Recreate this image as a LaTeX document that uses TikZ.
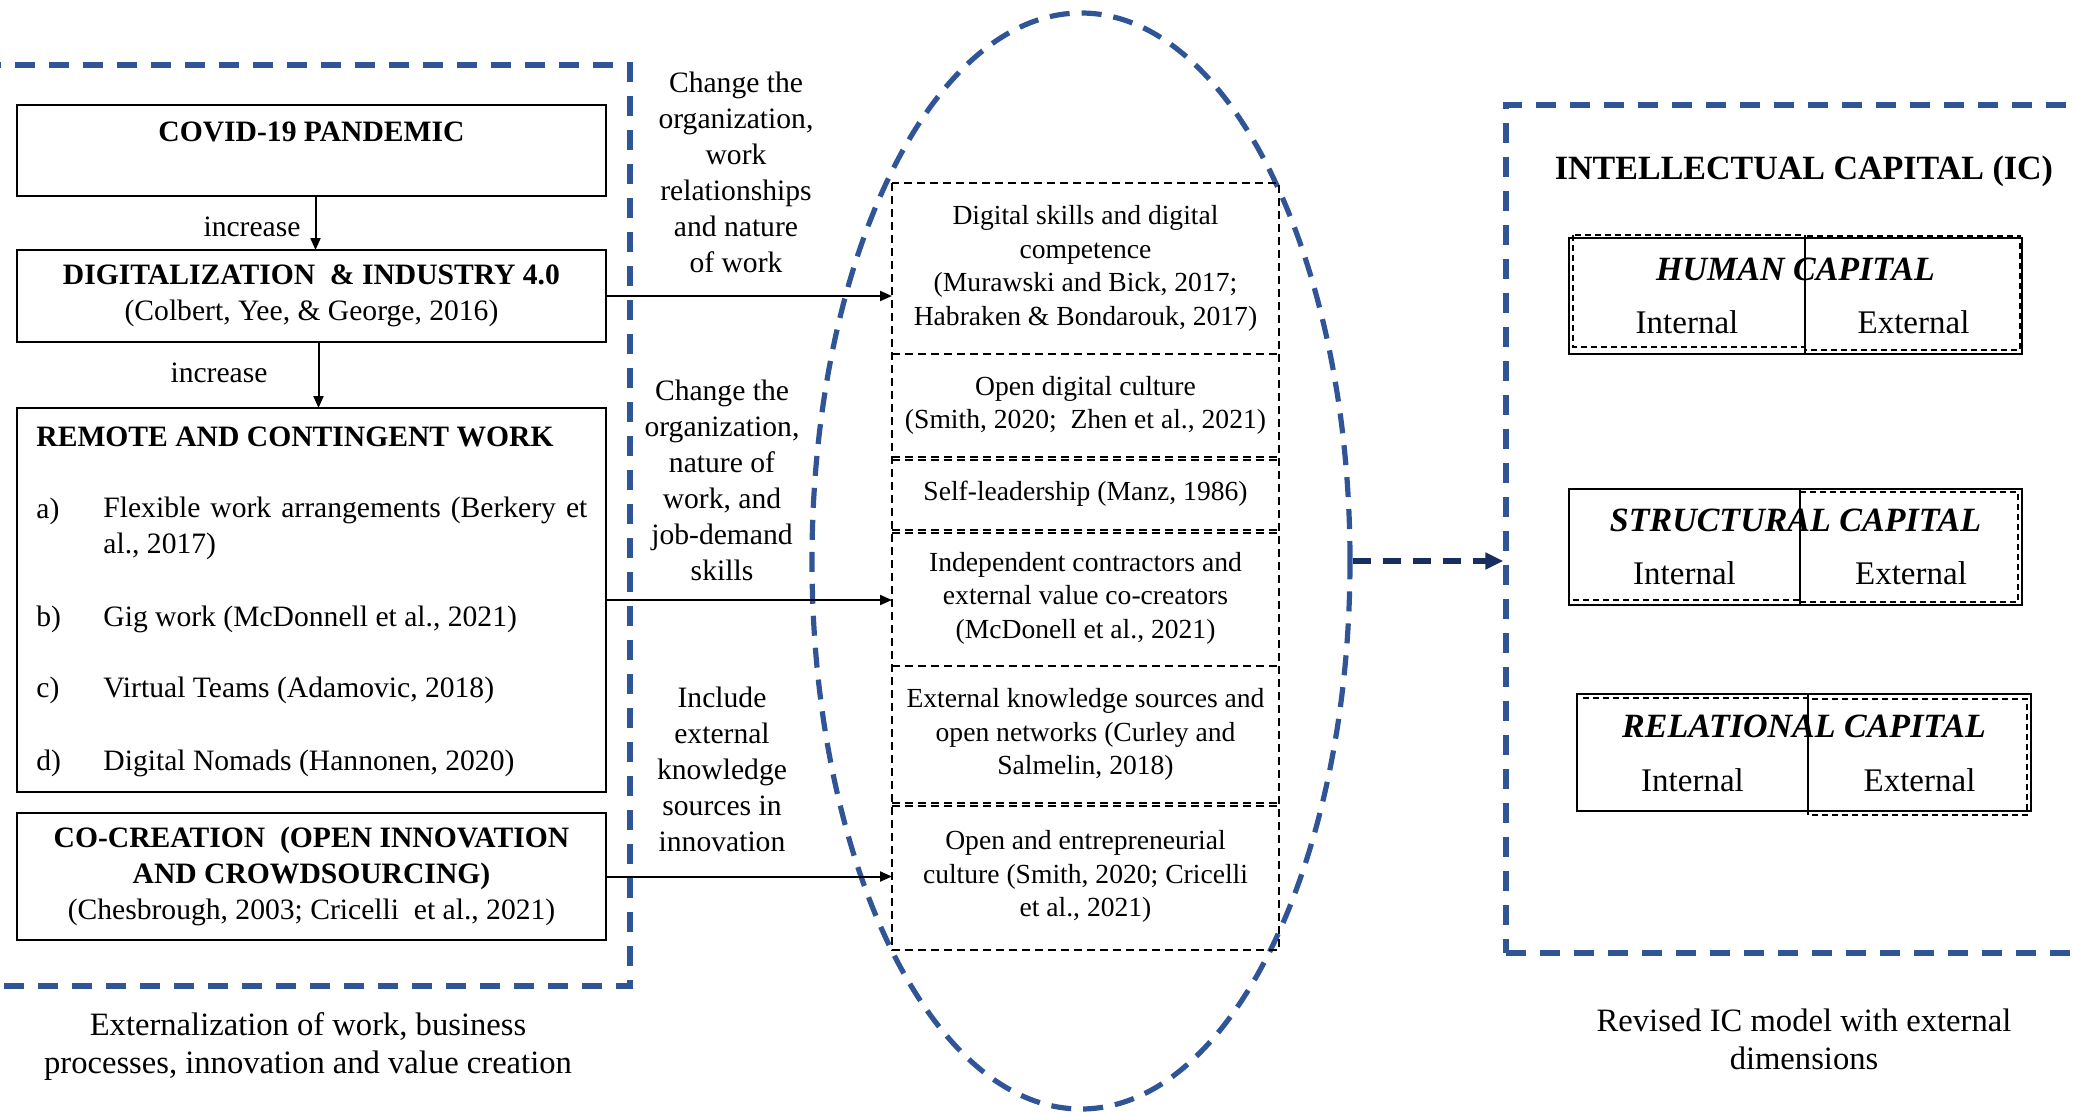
\documentclass[tikz,border=0pt]{standalone}
\usepackage{fontspec}
\setmainfont{Liberation Serif}
\usetikzlibrary{
    positioning,
    arrows.meta,
    shapes.geometric,
    fit,
    calc
  }
\definecolor{frameblue}{RGB}{47,85,151}
\definecolor{flownavy}{RGB}{24,45,96}
\tikzset{
  bluedash/.style={draw=frameblue,line width=2.6pt,dash pattern=on 10pt off 7pt,inner sep=0pt},
  mainbox/.style={draw,line width=1.2pt,minimum width=294.5pt,inner sep=0pt,outer sep=0pt,align=center,font=\fontsize{14.8}{18}\selectfont},
  midbox/.style={minimum width=193.5pt,inner sep=0pt,outer sep=0pt,align=center,font=\fontsize{13.8}{16.8}\selectfont},
  middash/.style={line width=0.9pt,dash pattern=on 4pt off 2.5pt},
  lbl/.style={align=center,inner sep=0pt,font=\fontsize{14.8}{18}\selectfont},
  caption/.style={align=center,inner sep=0pt,font=\fontsize{16.3}{19}\selectfont},
  conn/.style={line width=1pt,-{Triangle[length=6pt,width=5pt]}},
  hub/.style={ellipse,draw=frameblue,line width=2.6pt,dash pattern=on 10pt off 6pt,minimum width=269pt,minimum height=548pt,inner sep=0pt},
  flow/.style={draw=flownavy,line width=2.6pt,dash pattern=on 9pt off 6pt,-{Triangle[length=9pt,width=8pt]}},
  capbox/.style={draw,line width=1pt,inner sep=0pt},
  capdash/.style={line width=0.9pt,dash pattern=on 3pt off 2pt},
  captitle/.style={inner sep=0pt,font=\fontsize{17}{20}\selectfont\bfseries\itshape},
  captext/.style={inner sep=0pt,font=\fontsize{16.5}{19}\selectfont}
}

\begin{document}
\begin{tikzpicture}[x=0.5pt,y=-0.5pt]
\useasboundingbox (0,0) rectangle (2074,1114);

% frames
\node[bluedash,fit={(-30,65) (630,986)}] (extframe) {};
\node[bluedash,fit={(1506,105) (2110,953)}] (icframe) {};
\node[hub] (hub) at (1081,561) {};

% left column
\node[mainbox,minimum height=45.5pt] (covid) at (311.5,150.5) {\textbf{COVID-19 PANDEMIC}\\[-5pt] \strut};
\node[mainbox,minimum height=46pt,below=27pt of covid] (digi)
   {\textbf{DIGITALIZATION \ \& INDUSTRY 4.0}\\(Colbert, Yee, \& George, 2016)};
\node[mainbox,minimum height=192pt,below=33pt of digi] (remote) {};
\node[mainbox,minimum height=63.5pt,below=10.5pt of remote] (cocreate)
   {\textbf{CO-CREATION \ (OPEN INNOVATION}\\\textbf{AND CROWDSOURCING)}\\(Chesbrough, 2003; Cricelli \ et al., 2021)};

\node[lbl,anchor=west] (remhead) at (36,437) {\textbf{REMOTE AND CONTINGENT WORK}};
\node[lbl,anchor=west] (itema) at (36,511) {a)};
\node[lbl,anchor=west,text width=242pt,align=justify] (texta) at (103,528)
   {Flexible work arrangements (Berkery et\linebreak al., 2017)};
\node[lbl,anchor=west] (itemb) at (36,619) {b)};
\node[lbl,anchor=west] (textb) at (103,619) {Gig work (McDonnell et al., 2021)};
\node[lbl,anchor=west] (itemc) at (36,690) {c)};
\node[lbl,anchor=west] (textc) at (103,690) {Virtual Teams (Adamovic, 2018)};
\node[lbl,anchor=west] (itemd) at (36,763) {d)};
\node[lbl,anchor=west] (textd) at (103,763) {Digital Nomads (Hannonen, 2020)};

\draw[conn] ([xshift=2pt]covid.south) -- ([xshift=2pt]digi.north);
\draw[conn] ([xshift=3.5pt]digi.south) -- ([xshift=3.5pt]remote.north);
\node[lbl] (inc1) at (252,227) {increase};
\node[lbl] (inc2) at (219,373) {increase};

% middle column
\node[lbl] (why1) at (736,172) {Change the\\organization,\\work\\relationships\\and nature\\of work};
\node[lbl] (why2) at (722,480) {Change the\\organization,\\nature of\\work, and\\job-demand\\skills};
\node[lbl] (why3) at (722,769) {Include\\external\\knowledge\\sources in\\innovation};

\node[midbox,minimum height=85.5pt] (skills) at (1085.5,268.5)
   {Digital skills and digital\\competence\\(Murawski and Bick, 2017;\\Habraken \& Bondarouk, 2017)};
\node[midbox,minimum height=51.5pt,below=0pt of skills] (culture)
   {Open digital culture\\(Smith, 2020; \ Zhen et al., 2021)};
\node[midbox,minimum height=36.5pt,below=0pt of culture] (selflead)
   {Self-leadership (Manz, 1986)};
\node[midbox,minimum height=68pt,below=0pt of selflead] (contract)
   {Independent contractors and\\external value co-creators\\(McDonell et al., 2021)};
\node[midbox,minimum height=68.5pt,below=0pt of contract] (knowsrc)
   {External knowledge sources and\\open networks (Curley and\\Salmelin, 2018)};
\node[midbox,minimum height=73.5pt,below=0pt of knowsrc] (entrep)
   {Open and entrepreneurial\\culture (Smith, 2020; Cricelli\\et al., 2021)};
\draw[middash] (skills.north west) rectangle (entrep.south east);
\draw[middash] (skills.south west) -- (skills.south east);
\draw[middash] (culture.south west) -- (culture.south east);
\draw[middash] ([yshift=-1.5pt]culture.south west) -- ([yshift=-1.5pt]culture.south east);
\draw[middash] (selflead.south west) -- (selflead.south east);
\draw[middash] ([yshift=-1.5pt]selflead.south west) -- ([yshift=-1.5pt]selflead.south east);
\draw[middash] (contract.south west) -- (contract.south east);
\draw[middash] (knowsrc.south west) -- (knowsrc.south east);
\draw[middash] ([yshift=-1.5pt]knowsrc.south west) -- ([yshift=-1.5pt]knowsrc.south east);

\draw[conn] (digi.east) -- (digi.east -| skills.west);
\draw[conn] (remote.east) -- (remote.east -| contract.west);
\draw[conn] (cocreate.east) -- (cocreate.east -| entrep.west);

\draw[flow] (hub.east) -- (hub.east -| icframe.west);

% right column
\node[inner sep=0pt,font=\fontsize{17}{20}\selectfont\bfseries] (ictitle) at (1804,171) {INTELLECTUAL CAPITAL (IC)};

% human capital
\node[capbox,fit={(1569,238) (1805,354)}] (humin) {};
\node[capbox,fit={(1805,238) (2022,354)}] (humex) {};
\draw[capdash] (1573,235) rectangle (1805,347);
\draw[capdash] (1805,236) rectangle (2020,350);
\node[captitle] (humtitle) at ($(humin.north west)!0.5!(humex.north east)+(0,32)$) {HUMAN CAPITAL};
\node[captext] (humint) at ($(humin.south)+(0,-33)$) {Internal};
\node[captext] (humext) at ($(humex.south)+(0,-33)$) {External};

% structural capital
\node[capbox,fit={(1569,489) (1800,605)}] (strin) {};
\node[capbox,fit={(1800,489) (2022,605)}] (strex) {};
\draw[capdash] (1573,600) -- (1800,600);
\draw[capdash] (1800,492) rectangle (2018,602);
\node[captitle] (strtitle) at ($(strin.north west)!0.5!(strex.north east)+(0,32)$) {STRUCTURAL CAPITAL};
\node[captext] (strint) at ($(strin.south)+(0,-33)$) {Internal};
\node[captext] (strext) at ($(strex.south)+(0,-33)$) {External};

% relational capital
\node[capbox,fit={(1577,694) (1808,811)}] (relin) {};
\node[capbox,fit={(1808,694) (2031,811)}] (relex) {};
\draw[capdash] (1583,698) -- (1808,698);
\draw[capdash] (1808,699) rectangle (2027,815);
\node[captitle] (reltitle) at ($(relin.north west)!0.5!(relex.north east)+(0,33)$) {RELATIONAL CAPITAL};
\node[captext] (relint) at ($(relin.south)+(0,-32)$) {Internal};
\node[captext] (relext) at ($(relex.south)+(0,-32)$) {External};

% captions
\node[caption] (extcap) at (308,1046) {Externalization of work, business\\processes, innovation and value creation};
\node[caption] (iccap) at (1804,1039) {Revised IC model with external\\dimensions};
\end{tikzpicture}
\end{document}
